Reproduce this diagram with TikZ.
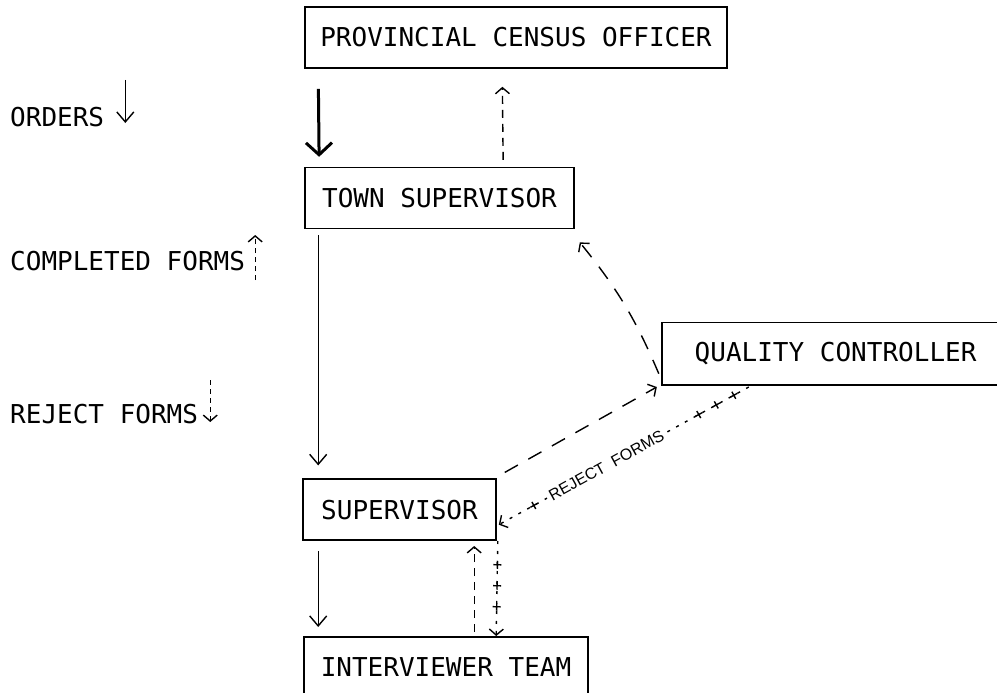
\documentclass[tikz,border=0pt]{standalone}
\usepackage{fontspec}
\newfontfamily\typefont{DejaVu Sans Mono}
\newfontfamily\smallfont{Liberation Sans}
\usetikzlibrary{positioning,arrows.meta,decorations.markings}
\newcommand\crossglyph{\draw[solid,-,line width=1.4pt] (-4pt,0) -- (4pt,0) (0,-4pt) -- (0,4pt);}

\begin{document}
\begin{tikzpicture}[x=1pt,y=-1pt,
	boxnode/.style={draw,line width=1.6pt,inner sep=0pt,minimum height=61pt,font=\fontsize{26}{30}\typefont},
	legnode/.style={anchor=west,inner sep=0pt,font=\fontsize{26}{30}\typefont},
	orderflow/.style={line width=3pt,-{Straight Barb[length=12pt,width=26pt,line width=3pt]}},
	flow/.style={line width=1.4pt,-{Straight Barb[length=10pt,width=17pt,line width=1.4pt]}},
	dashflow/.style={line width=1.4pt,dash pattern=on 8pt off 6pt,-{Straight Barb[length=6pt,width=14pt,line width=1.4pt]}},
	longdash/.style={line width=1.4pt,dash pattern=on 15pt off 12pt,-{Straight Barb[length=6pt,width=14pt,line width=1.4pt]}},
	crossflow/.style={line width=1.4pt,dash pattern=on 3pt off 7pt,-{Straight Barb[length=6pt,width=14pt,line width=1.4pt]},postaction={decorate}}]
		\useasboundingbox (0,0) rectangle (997,693);

		\node[boxnode,minimum width=422pt]															(prov)		at (516,37.5)	{PROVINCIAL CENSUS OFFICER};
		\node[boxnode,minimum width=269pt,below=98pt of prov.south west,anchor=north west]			(town)		{TOWN SUPERVISOR};
		\node[boxnode,minimum width=193pt,below=249pt of town.south west,anchor=north west,xshift=-2pt]	(sup)	{SUPERVISOR};
		\node[boxnode,minimum width=284pt,below=95pt of sup.south west,anchor=north west,xshift=1pt]	(intv)		{INTERVIEWER TEAM};
		\node[boxnode,draw=none,minimum width=346pt,right=87pt of town.south east,anchor=north west,yshift=-93pt]	(qc)	{QUALITY CONTROLLER};
		\draw[line width=1.6pt] ([xshift=20pt]qc.north east) -- (qc.north west) -- (qc.south west) -- ([xshift=20pt]qc.south east);

		\node[legnode]	(ordlbl)	at (10,117)	{ORDERS};
		\node[legnode]	(complbl)	at (10,261)	{COMPLETED FORMS};
		\node[legnode]	(rejlbl)	at (10,414)	{REJECT FORMS};

		\draw[flow] ([xshift=21pt,yshift=37pt]ordlbl.east) -- ([xshift=21pt,yshift=-6pt]ordlbl.east);
		\draw[dashflow,dash pattern=on 5pt off 4pt] ([xshift=10pt,yshift=-19pt]complbl.east) -- ([xshift=10pt,yshift=26pt]complbl.east);
		\draw[dashflow,dash pattern=on 5pt off 4pt] ([xshift=12pt,yshift=34pt]rejlbl.east) -- ([xshift=12pt,yshift=-8pt]rejlbl.east);

		\draw[orderflow,shorten <=20pt,shorten >=10pt] ([xshift=14pt]prov.south west) -- ([xshift=15pt]town.north west);
		\draw[dashflow,shorten <=7pt,shorten >=18pt] ([xshift=199pt]town.north west) -- ([xshift=198pt]prov.south west);
		\draw[flow,shorten <=6pt,shorten >=13pt] ([xshift=14pt]town.south west) -- ([xshift=16pt]sup.north west);
		\draw[flow,shorten <=10pt,shorten >=9pt] ([xshift=16pt]sup.south west) -- ([xshift=15pt]intv.north west);
		\draw[dashflow,shorten <=4pt,shorten >=5pt] ([xshift=171pt]intv.north west) -- ([xshift=172pt]sup.south west);
		\draw[crossflow,decoration={markings,mark=between positions 0.25 and 0.8 step 21pt with {\crossglyph}}] ([xshift=1pt]sup.south east) -- ([xshift=193pt]intv.north west);
		\draw[longdash] ([xshift=8pt,yshift=6pt]sup.north east) -- ([xshift=-5pt,yshift=-2pt]qc.south west);
		\draw[crossflow,decoration={markings,mark=between positions 0.06 and 0.26 step 20pt with {\crossglyph},mark=at position 0.86 with {\crossglyph}}] ([xshift=87pt,yshift=-2pt]qc.south west) -- node[pos=0.57,sloped,fill=white,inner sep=3pt,font=\fontsize{16}{18}\smallfont] {REJECT\ \ FORMS} ([xshift=2pt,yshift=-15pt]sup.east);
		\draw[longdash] ([xshift=-3pt,yshift=-20pt]qc.west) to[bend right=8] ([xshift=5pt,yshift=-13pt]town.south east);
	\end{tikzpicture}
\end{document}
